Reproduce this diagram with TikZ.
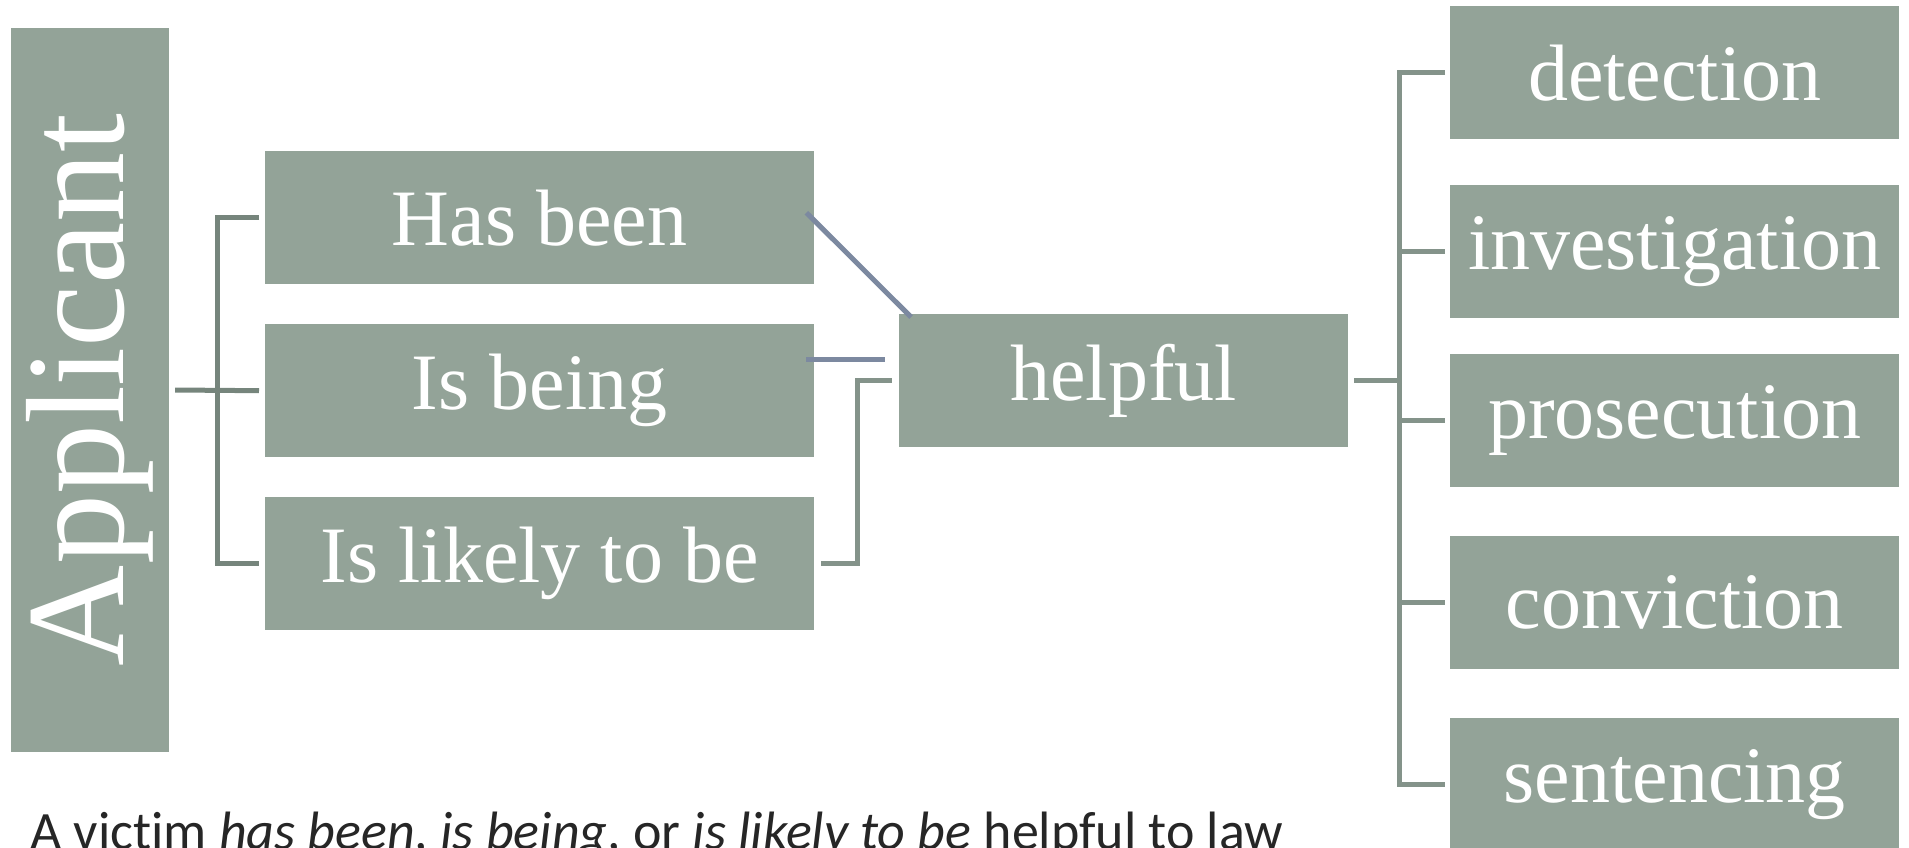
\documentclass[tikz,border=0pt]{standalone}
\usepackage{fontspec}
\setmainfont{Liberation Serif}
\newfontfamily\notefont[Ligatures=NoCommon]{Carlito}
\usetikzlibrary{calc}
\definecolor{boxgreen}{RGB}{147,163,152}
\definecolor{linkgreen}{RGB}{132,147,138}
\definecolor{linkdark}{RGB}{118,133,124}
\definecolor{linkblue}{RGB}{124,137,160}
\definecolor{notegray}{RGB}{38,38,38}
\tikzset{
  box/.style={fill=boxgreen,text=white,inner sep=0pt,anchor=north west,
    minimum height=133pt,font=\fontsize{80}{90}\selectfont},
  midbox/.style={box,minimum width=549pt},
  endbox/.style={box,minimum width=449pt},
  brk/.style={linkgreen,line width=5pt},
  brkdark/.style={linkdark,line width=5pt},
  lnk/.style={linkblue,line width=5pt}
}
\begin{document}
\begin{tikzpicture}[x=1pt,y=-1pt]
\useasboundingbox (0,0) rectangle (1909,848);
% applicant
\node[fill=boxgreen,text=white,inner sep=0pt,rotate=90,minimum width=724pt,
  minimum height=158pt,font=\fontsize{140}{150}\selectfont] (app) at (90,390) {Applicant};
% has been / is being / is likely to be
\node[midbox] (has) at (265,151) {Has been};
\node[midbox] (being) at (265,324) {Is being};
\node[midbox] (likely) at (265,497) {Is likely to be};
\node[box,minimum width=449pt] (help) at (899,314) {helpful};
% stages
\node[endbox] (detect) at (1450,6) {detection};
\node[endbox] (invest) at (1450,185) {investigation};
\node[endbox] (prosec) at (1450,354) {prosecution};
\node[endbox] (convict) at (1450,536) {conviction};
\node[endbox] (sentence) at (1450,718) {sentencing};
% left bracket
\coordinate (lb) at (217,0);
\draw[brkdark] ([xshift=6pt]app.south) -- ([xshift=-6pt]being.west);
\draw[brkdark] ([xshift=-6pt]has.west) -- (lb |- has.west) -- (lb |- likely.west) -- ([xshift=-6pt]likely.west);
% into helpful
\draw[lnk] ($(has.east)+(-8,-5)$) -- ($(help.north west)+(12,3)$);
\draw[lnk] ($(being.east)+(-8,-31)$) -- ($(help.west)+(-14,-21)$);
\draw[brk] ([xshift=7pt]likely.east) -| ($(help.west)+(-42,0)$) -- ([xshift=-7pt]help.west);
% right bracket
\coordinate (rb) at (1399,0);
\draw[brk] ([xshift=6pt]help.east) -- (rb |- help.east);
\draw[brk] ([xshift=-5pt]detect.west) -- (rb |- detect.west) -- (rb |- sentence.west) -- ([xshift=-5pt]sentence.west);
\foreach \n in {invest,prosec,convict}
  \draw[brk] (rb |- \n.west) -- ([xshift=-5pt]\n.west);
% note below
\node[anchor=base west,inner sep=0pt,text=notegray,font=\notefont\fontsize{54}{60}\selectfont] (note) at (30,849)
  {A victim \textit{has been}, \textit{is being}, or \textit{is likely to be} helpful to law};
\end{tikzpicture}
\end{document}
